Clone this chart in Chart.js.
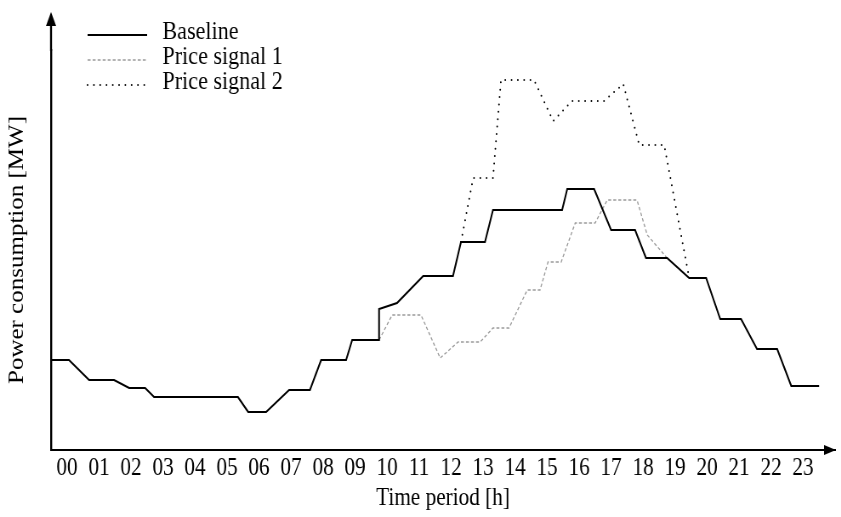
<!DOCTYPE html>
<html>
<head>
<meta charset="utf-8">
<script src="https://cdn.jsdelivr.net/npm/chart.js@4/dist/chart.umd.min.js"></script>
<style>
  html, body { margin: 0; padding: 0; background: #fff; overflow: hidden; }
  /* The figure is laid out on a wider canvas and narrowed horizontally,
     which gives the tall, condensed lettering of the printed figure. */
  #wrap { width: 989px; height: 517px; position: relative;
          transform: scaleX(0.8504); transform-origin: 0 0; }
</style>
</head>
<body>
<div id="wrap"><canvas id="c"></canvas></div>
<script>
// Hour labels along the time axis (each label sits in the middle of its hour)
const hourLabels = ['00','01','02','03','04','05','06','07','08','09','10','11',
                    '12','13','14','15','16','17','18','19','20','21','22','23'];

// Baseline load profile: time [h] and power [MW]
const baselineT  = [0, 0.56, 1.19, 1.97, 2.44, 2.94, 3.22, 5.84, 6.16, 6.72, 7.44, 8.09,
                    8.44, 9.22, 9.41, 10.25, 10.25, 10.81, 11.63, 12.56, 12.81, 13.56, 13.81,
                    15.97, 16.13, 16.97, 17.5, 18.25, 18.59, 19.25, 19.94, 20.47, 20.91,
                    21.56, 22.06, 22.69, 23.13, 24];
const baselineMW = [9.0, 9.0, 7.0, 7.0, 6.2, 6.2, 5.3, 5.3, 3.8, 3.8, 6.0, 6.0,
                    9.0, 9.0, 11.0, 11.0, 14.1, 14.7, 17.4, 17.4, 20.8, 20.8, 24.0,
                    24.0, 26.1, 26.1, 22.0, 22.0, 19.2, 19.2, 17.2, 17.2, 13.1,
                    13.1, 10.1, 10.1, 6.4, 6.4];

// Response to price signal 1 (where it departs from the baseline)
const signal1T  = [10.25, 10.66, 11.56, 12.16, 12.72, 13.41, 13.81, 14.31, 14.88, 15.28,
                   15.53, 15.94, 16.38, 17.0, 17.38, 18.31, 18.63, 19.25];
const signal1MW = [11.0, 13.5, 13.5, 9.2, 10.8, 10.8, 12.2, 12.2, 16.0, 16.0,
                   18.8, 18.8, 22.7, 22.7, 25.0, 25.0, 21.5, 19.2];

// Response to price signal 2 (where it departs from the baseline)
const signal2T  = [12.81, 13.19, 13.81, 14.06, 15.09, 15.69, 16.28, 17.28, 17.88, 18.38, 19.16, 19.94];
const signal2MW = [20.8, 27.2, 27.2, 37.0, 37.0, 32.9, 34.9, 34.9, 36.6, 30.5, 30.5, 17.2];

const toPoints = (ts, vs) => ts.map((t, i) => ({ x: t, y: vs[i] }));
const SERIF = '"Liberation Serif", "Times New Roman", serif';

// Axis extension and arrow heads at the far ends of both axes
const axisArrows = {
  id: 'axisArrows',
  afterDraw(chart) {
    const { ctx, chartArea: a } = chart;
    const tipY = 12;
    ctx.save();
    ctx.strokeStyle = '#000';
    ctx.lineWidth = 2.35;
    ctx.beginPath();
    ctx.moveTo(a.left, a.top + 1);
    ctx.lineTo(a.left, tipY + 8);
    ctx.stroke();
    ctx.fillStyle = '#000';
    ctx.beginPath();
    ctx.moveTo(a.right + 1, a.bottom);
    ctx.lineTo(a.right - 13, a.bottom - 5);
    ctx.lineTo(a.right - 13, a.bottom + 5);
    ctx.closePath();
    ctx.fill();
    ctx.beginPath();
    ctx.moveTo(a.left, tipY);
    ctx.lineTo(a.left - 6, tipY + 14);
    ctx.lineTo(a.left + 6, tipY + 14);
    ctx.closePath();
    ctx.fill();
    ctx.restore();
  }
};

// Line-sample legend in the upper-left corner of the plot
const lineLegend = {
  id: 'lineLegend',
  afterDraw(chart) {
    const { ctx } = chart;
    const x0 = 103, x1 = 173, tx = 191, y0 = 32, dy = 25;
    ctx.save();
    chart.data.datasets.forEach((ds, i) => {
      const y = y0 + i * dy;
      ctx.beginPath();
      ctx.strokeStyle = ds.borderColor;
      ctx.lineWidth = ds.borderWidth;
      ctx.lineCap = ds.borderCapStyle || 'butt';
      ctx.setLineDash(ds.borderDash || []);
      ctx.moveTo(x0, y + 3);
      ctx.lineTo(x1, y + 3);
      ctx.stroke();
      ctx.setLineDash([]);
      ctx.fillStyle = '#000';
      ctx.font = '26px ' + SERIF;
      ctx.textBaseline = 'middle';
      ctx.textAlign = 'left';
      ctx.fillText(ds.label, tx, y);
    });
    ctx.restore();
  }
};

new Chart(document.getElementById('c'), {
  type: 'line',
  data: {
    datasets: [
      {
        label: 'Baseline',
        data: toPoints(baselineT, baselineMW),
        borderColor: '#000',
        borderWidth: 2,
        order: 0
      },
      {
        label: 'Price signal 1',
        data: toPoints(signal1T, signal1MW),
        borderColor: '#9a9a9a',
        borderWidth: 1.3,
        borderDash: [3.5, 2.4],
        order: 2
      },
      {
        label: 'Price signal 2',
        data: toPoints(signal2T, signal2MW),
        borderColor: '#000',
        borderWidth: 2,
        borderDash: [0, 7.4],
        borderCapStyle: 'round',
        order: 1
      }
    ]
  },
  options: {
    responsive: true,
    maintainAspectRatio: false,
    animation: false,
    layout: { padding: { top: 50, right: 7, left: 0, bottom: 0 } },
    elements: { point: { radius: 0 }, line: { tension: 0 } },
    plugins: { legend: { display: false }, tooltip: { enabled: false } },
    scales: {
      x: {
        type: 'linear',
        min: 0,
        max: 24.5,
        grid: { display: false, drawTicks: false },
        border: { color: '#000', width: 2 },
        afterBuildTicks: (scale) => {
          scale.ticks = hourLabels.map((_, i) => ({ value: i + 0.5 }));
        },
        afterFit: (scale) => { scale.height = 67; },
        ticks: {
          autoSkip: false,
          maxRotation: 0,
          padding: 3,
          color: '#000',
          font: { family: SERIF, size: 25 },
          callback: (v) => hourLabels[Math.round(v - 0.5)]
        },
        title: {
          display: true,
          text: 'Time period [h]',
          color: '#000',
          font: { family: SERIF, size: 25 },
          padding: { top: 0, bottom: 4 }
        }
      },
      y: {
        min: 0,
        max: 40,
        grid: { display: false, drawTicks: false },
        border: { color: '#000', width: 2.35 },
        ticks: { display: false },
        afterFit: (scale) => { scale.width = 60; },
        title: {
          display: true,
          text: 'Power consumption [MW]',
          color: '#000',
          font: { family: SERIF, size: 25 },
          padding: { top: 5, bottom: 0 }
        }
      }
    }
  },
  plugins: [axisArrows, lineLegend]
});
</script>
</body>
</html>
